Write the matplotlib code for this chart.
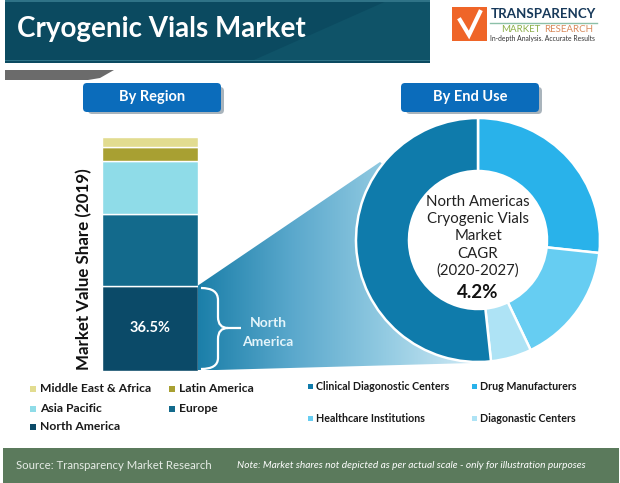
import matplotlib
matplotlib.use('Agg')
import matplotlib.pyplot as plt
import numpy as np
from matplotlib.colors import LinearSegmentedColormap
from matplotlib.patches import Circle, FancyBboxPatch, PathPatch, Polygon, Rectangle
from matplotlib.path import Path

plt.rcParams['font.family'] = ['Lato', 'DejaVu Sans']

title = 'Cryogenic Vials Market'

region_names = ['North America', 'Europe', 'Asia Pacific', 'Latin America', 'Middle East & Africa']
region_shares = [36.5, 30.6, 23.0, 5.9, 4.0]
region_colors = ['#0b4a68', '#136a8c', '#8fdce8', '#a8a032', '#e2dc90']

use_names = ['Drug Manufacturers', 'Healthcare Institutions', 'Diagonastic Centers', 'Clinical Diagonostic Centers']
use_shares = [26.7, 16.2, 5.4, 51.7]
use_colors = ['#29b2ea', '#66cdf2', '#aee3f5', '#0f7bab']

center_lines = ['North Americas', 'Cryogenic Vials', 'Market', 'CAGR', '(2020-2027)']
center_value = '4.2%'

fig = plt.figure(figsize=(6.2, 4.83), dpi=100)

# page axes in pixels, everything decorative goes here
bg = fig.add_axes([0, 0, 1, 1])
bg.set_xlim(0, 620)
bg.set_ylim(483, 0)
bg.axis('off')

# header banner
bg.add_patch(Rectangle((5, 0), 425, 63, color='#0b4a60', lw=0))
bg.add_patch(Polygon([(254, 60), (389, 0), (430, 0), (430, 60)], color='#0f5368', lw=0))
bg.add_patch(Rectangle((5, 0), 425, 2, color='#2f7387', lw=0))
bg.add_patch(Rectangle((5, 60), 425, 1, color='#2f7387', lw=0))
bg.text(17, 29, title, color='white', fontsize=20, fontweight='bold', va='center')
bg.add_patch(Polygon([(5, 70), (114, 70), (100, 78), (88, 80), (5, 80)], color='#6b6b6b', lw=0))

# logo
bg.add_patch(Rectangle((452, 7), 35, 34, color='#ef6528', lw=0))
bg.plot([460, 469, 480], [20, 35, 12], color='white', lw=3, solid_joinstyle='miter')
bg.text(491, 14, 'TRANSPARENCY', color='#17395a', fontsize=9.6, fontweight='bold', va='center')
bg.plot([490, 597], [23, 23], color='#8cc0a8', lw=1)
bg.text(501, 29.5, 'MARKET', color='#8db04a', fontsize=7, va='center')
bg.text(544, 29.5, 'RESEARCH', color='#d98a5a', fontsize=7, va='center')
bg.text(490, 38, 'In-depth Analysis. Accurate Results', color='#333333', fontsize=4.9, va='center')

# buttons
for x0, label in [(83, 'By Region'), (401, 'By End Use')]:
    bg.add_patch(FancyBboxPatch((x0 + 5, 87), 136, 27, boxstyle='round,pad=0,rounding_size=4',
                                color='#a9b4bc', lw=0))
    bg.add_patch(FancyBboxPatch((x0, 83), 138, 29, boxstyle='round,pad=0,rounding_size=4',
                                color='#0b6cbb', lw=0))
    bg.text(x0 + 69, 97.5, label, color='white', fontsize=10.5, fontweight='bold', ha='center', va='center')

# gradient funnel from the bar to the donut
funnel_cmap = LinearSegmentedColormap.from_list('funnel', ['#1b7fa9', '#5aa8cc', '#93cbe2', '#d2ebf6'])
grad = bg.imshow(np.linspace(0, 1, 256).reshape(1, -1), cmap=funnel_cmap, aspect='auto',
                 extent=(198, 480, 370.5, 160))
funnel = Polygon([(198, 285.5), (380, 162), (480, 240), (473, 363), (198, 370.5)],
                 transform=bg.transData, fc='none', lw=0)
bg.add_patch(funnel)
grad.set_clip_path(funnel)
bg.set_xlim(0, 620)
bg.set_ylim(483, 0)

# bracket and label
codes = [Path.MOVETO, Path.CURVE3, Path.CURVE3, Path.LINETO, Path.CURVE3, Path.CURVE3,
         Path.MOVETO, Path.LINETO,
         Path.MOVETO, Path.CURVE3, Path.CURVE3, Path.LINETO, Path.CURVE3, Path.CURVE3]
verts = [(201, 288), (218, 288), (218, 300), (218, 317), (218, 328), (228, 328),
         (228, 328), (241, 328),
         (201, 369), (218, 369), (218, 358), (218, 339), (218, 328), (228, 328)]
bg.add_patch(PathPatch(Path(verts, codes), fc='none', ec='white', lw=1.6))
bg.text(268, 323, 'North', color='#e4f4fa', fontsize=10, fontweight='bold', ha='center', va='center')
bg.text(268, 342, 'America', color='#e4f4fa', fontsize=10, fontweight='bold', ha='center', va='center')

# stacked bar
ax = fig.add_axes([102 / 620, (483 - 370.7) / 483, 96 / 620, 233.2 / 483])
ax.patch.set_alpha(0)
bottom = 0
for share, color in zip(region_shares, region_colors):
    ax.bar(0, share, bottom=bottom, width=1, color=color, edgecolor='white', linewidth=1)
    bottom += share
ax.set_xlim(-0.5, 0.5)
ax.set_ylim(0, sum(region_shares))
ax.axis('off')
ax.text(0, region_shares[0] / 2, f'{region_shares[0]}%', color='white', fontsize=10.5,
        fontweight='bold', ha='center', va='center')
bg.text(84, 269, 'Market Value Share (2019)', color='#111111', fontsize=12.2, fontweight='bold',
        rotation=90, ha='center', va='center')

# donut
pie_r = 122 * 1.03
ax2 = fig.add_axes([(478 - pie_r) / 620, (483 - 240 - pie_r) / 483, 2 * pie_r / 620, 2 * pie_r / 483])
ax2.pie(use_shares, colors=use_colors, startangle=90, counterclock=False, radius=1,
        wedgeprops=dict(width=1 - 69 / 122, edgecolor='white', linewidth=1.8))
ax2.add_patch(Circle((0, 0), 69 / 122, color='white', lw=0, zorder=3))
ax2.set_xlim(-1.03, 1.03)
ax2.set_ylim(-1.03, 1.03)

# donut centre text
for i, line in enumerate(center_lines):
    bg_y = 202 + i * 17.2
    ax2.text(0, (240 - bg_y) / 122, line, color='#222222', fontsize=10.8, ha='center', va='center', zorder=4)
ax2.text(0, (240 - 292) / 122, center_value, color='#111111', fontsize=13.5, fontweight='bold',
         ha='center', va='center', zorder=4)

# legends
region_legend = {'Middle East & Africa': (33, 389), 'Latin America': (172, 389), 'Asia Pacific': (33, 409),
                 'Europe': (172, 409), 'North America': (33, 427)}
for name, color in zip(region_names, region_colors):
    x, y = region_legend[name]
    bg.add_patch(Rectangle((x - 3, y - 3), 6, 6, color=color, lw=0))
    bg.text(x + 7, y, name, color='#1a1a1a', fontsize=8.7, fontweight='bold', va='center')

use_legend = {'Clinical Diagonostic Centers': (310, 386), 'Drug Manufacturers': (474, 386),
              'Healthcare Institutions': (310, 418), 'Diagonastic Centers': (474, 418)}
for name, color in zip(use_names, use_colors):
    x, y = use_legend[name]
    bg.add_patch(Rectangle((x - 2.5, y - 2.5), 5, 5, color=color, lw=0))
    bg.text(x + 6, y, name, color='#1a1a1a', fontsize=7.7, fontweight='bold', va='center')

# footer
bg.add_patch(Rectangle((3, 448), 616, 35, color='#5b7a5c', lw=0))
bg.text(16, 465.5, 'Source: Transparency Market Research', color='#e6ece6', fontsize=8.2, va='center')
bg.text(237, 465, 'Note: Market shares not depicted as per actual scale - only for illustration purposes',
        color='white', fontsize=7.3, style='italic', va='center')

fig.savefig('out.png', dpi=100)
